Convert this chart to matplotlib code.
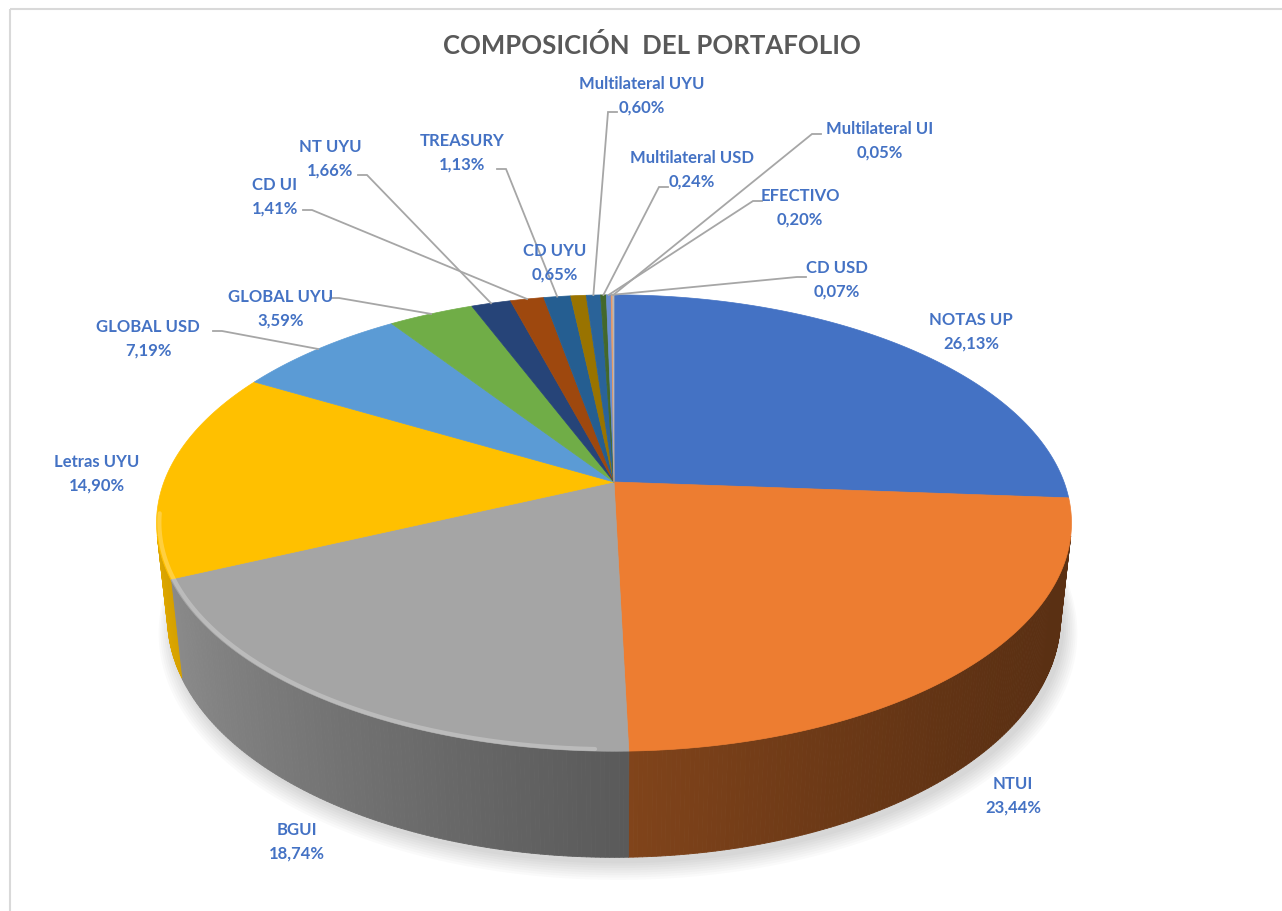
import numpy as np
import matplotlib.pyplot as plt
import matplotlib.colors as mcolors
from matplotlib.collections import PolyCollection
from matplotlib.patches import Polygon, Rectangle

plt.rcParams['font.family'] = ['Lato', 'DejaVu Sans']

# data (clockwise from 12 o'clock, Excel order)
categories = ["NOTAS UP", "NTUI", "BGUI", "Letras UYU", "GLOBAL USD", "GLOBAL UYU",
              "NT UYU", "CD UI", "TREASURY", "CD UYU", "Multilateral UYU",
              "Multilateral USD", "EFECTIVO", "CD USD", "Multilateral UI"]
shares = [26.13, 23.44, 18.74, 14.90, 7.19, 3.59, 1.66, 1.41, 1.13, 0.65, 0.60,
          0.24, 0.20, 0.07, 0.05]

# styles
colors = ["#4472C4", "#ED7D31", "#A5A5A5", "#FFC000", "#5B9BD5", "#70AD47",
          "#264478", "#9E480E", "#255E91", "#997300", "#2A6399", "#43682B",
          "#698ED0", "#F1975A", "#B7B7B7"]
label_color = "#4472C4"
line_color = "#A6A6A6"

# layout (pixel coords): label centres and leader line start points
label_xy = [(971, 332), (1013, 796), (297, 842), (97, 474), (148, 339), (281, 309),
            (330, 159), (275, 197), (462, 153), (555, 263), (642, 96),
            (692, 170), (800, 208), (837, 280), (880, 141)]
leader_xy = [None, None, None, None, (213, 332), (330, 299),
             (358, 176), (303, 211), (497, 170), None, (617, 113),
             (668, 188), (762, 202), (806, 278), (821, 135)]

# 3d pie geometry
CX, CY = 614, 483
TILT = np.radians(28.9)
DIST = 4.87
FOCAL = 2225
XSCALE = 0.985
DEPTH = 0.24
s_t, c_t = np.sin(TILT), np.cos(TILT)


def project(X, Y, Z):
    depth = DIST - Y * c_t - Z * s_t
    return CX + XSCALE * FOCAL * X / depth, CY + FOCAL * (Y * s_t - Z * c_t) / depth


def rim(theta, z=0.0, r=1.0):
    return project(r * np.sin(theta), -r * np.cos(theta), z)


def shade(color, theta):
    k = 0.65 - 0.25 * np.sin(theta) + 0.1 * np.cos(theta)
    return tuple(np.clip(np.array(mcolors.to_rgb(color)) * k, 0, 1))


fig = plt.figure(figsize=(12.82, 9.12), dpi=100)
ax = fig.add_axes([0, 0, 1, 1])
ax.set_xlim(0, 1282)
ax.set_ylim(912, 0)
ax.axis('off')

# chart border
ax.add_patch(Rectangle((10, 10), 1300, 950, fill=False, ec="#D9D9D9", lw=1.5))

ax.text(652, 45, "COMPOSICIÓN  DEL PORTAFOLIO", ha='center', va='center',
        fontsize=18.5, fontweight='bold', color="#595959")

fracs = np.array(shares) / sum(shares)
bounds = np.concatenate([[0], np.cumsum(fracs)]) * 2 * np.pi

# soft shadow below the pie
full = np.linspace(0, 2 * np.pi, 300)
for k in range(8):
    sx, sy = rim(full, -DEPTH, 1.0 + 0.004 * k)
    ax.add_patch(Polygon(np.column_stack([sx + 4, sy + 6 + k]), closed=True,
                         fc='black', ec='none', alpha=0.018))

# side wall: only front-facing strips
polys, cols = [], []
for i, col in enumerate(colors):
    n = max(2, int(np.ceil((bounds[i + 1] - bounds[i]) / np.radians(0.5))))
    th = np.linspace(bounds[i], bounds[i + 1], n + 1)
    for a, b in zip(th[:-1], th[1:]):
        m = 0.5 * (a + b)
        if np.cos(m) > -1 / (DIST * c_t):
            continue
        x1, y1 = rim(a)
        x2, y2 = rim(b)
        x3, y3 = rim(b, -DEPTH)
        x4, y4 = rim(a, -DEPTH)
        polys.append([(x1, y1), (x2, y2), (x3, y3), (x4, y4)])
        cols.append(shade(col, m))
ax.add_collection(PolyCollection(polys, facecolors=cols, edgecolors=cols, linewidths=0.6))

# top faces
for i, col in enumerate(colors):
    n = max(3, int(np.ceil((bounds[i + 1] - bounds[i]) / np.radians(0.5))))
    th = np.linspace(bounds[i], bounds[i + 1], n + 1)
    px, py = rim(th)
    pts = np.column_stack([np.r_[CX, px], np.r_[CY, py]])
    ax.add_patch(Polygon(pts, closed=True, fc=col, ec=col, lw=0.5))

# bevel highlight along the front-left edge
th = np.linspace(np.radians(182), np.radians(262), 150)
hx, hy = rim(th, 0.0, 0.994)
ax.plot(hx, hy, color='white', lw=3, alpha=0.25, solid_capstyle='round')

# labels and leader lines
for i, name in enumerate(categories):
    pct = f"{shares[i]:.2f}".replace('.', ',') + "%"
    lx, ly = label_xy[i]
    ax.text(lx, ly, f"{name}\n{pct}", ha='center', va='center', fontsize=12,
            fontweight='bold', color=label_color, linespacing=1.6)
    if leader_xy[i] is not None:
        mid = 0.5 * (bounds[i] + bounds[i + 1])
        tx, ty = rim(mid)
        ax0, ay0 = leader_xy[i]
        stub = 9 if tx > ax0 else -9
        ax.plot([ax0, ax0 + stub, tx], [ay0, ay0, ty], color=line_color, lw=1.3,
                solid_joinstyle='miter')

fig.savefig('out.png', dpi=100)
